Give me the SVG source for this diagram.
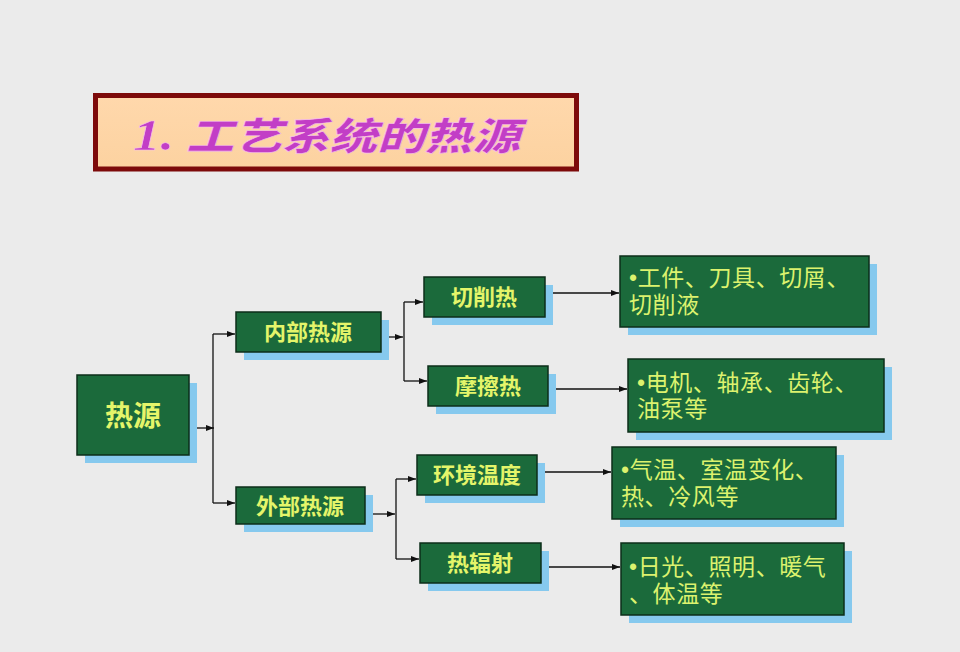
<svg xmlns="http://www.w3.org/2000/svg" width="960" height="652" viewBox="0 0 960 652">
<defs>
<style>
.sh{fill:#86c9ee}
.bx{fill:#1b6a3b;stroke:#0c2e1a;stroke-width:1.5}
.t{font-family:"Noto Sans CJK SC","Noto Sans",sans-serif;fill:#e4f56a;font-weight:bold;text-anchor:middle}
.d{font-family:"Liberation Sans","Noto Sans CJK SC",sans-serif;fill:#dcf26e;font-size:23px;letter-spacing:0.6px}
.c{stroke:#111;stroke-width:1.3;fill:none}
.a{stroke:#111;stroke-width:1.3;fill:none;marker-end:url(#ah)}
</style>
<marker id="ah" viewBox="0 0 8 6" refX="8" refY="3" markerWidth="8" markerHeight="6" markerUnits="userSpaceOnUse" orient="auto">
<path d="M0,0 L8,3 L0,6 Z" fill="#111"/>
</marker>
<linearGradient id="pg" x1="0" y1="0" x2="0" y2="1">
<stop offset="0" stop-color="#ffd8ac"/>
<stop offset="1" stop-color="#fcd2a0"/>
</linearGradient>
</defs>
<rect width="960" height="652" fill="#ebebeb"/>
<g id="title">
<rect x="95.5" y="95.5" width="481" height="73.5" fill="url(#pg)" stroke="#7d0a0a" stroke-width="5"/>
<text x="133" y="150" textLength="387" lengthAdjust="spacingAndGlyphs" font-family="'Liberation Serif','Noto Sans CJK SC',serif" font-size="38" font-weight="900" font-style="italic" fill="#c23ec6" stroke="#f6c0e8" stroke-width="0.6"><tspan font-size="44">1.</tspan> 工艺系统的热源</text>
</g>
<g id="connectors">
<line class="a" x1="193" y1="428" x2="214" y2="428"/>
<line class="c" x1="213" y1="334" x2="213" y2="503"/>
<line class="a" x1="213" y1="334" x2="235" y2="334"/>
<line class="a" x1="213" y1="503" x2="235" y2="503"/>
<line class="a" x1="389" y1="337" x2="403" y2="337"/>
<line class="c" x1="404" y1="302" x2="404" y2="381"/>
<line class="a" x1="404" y1="302" x2="423" y2="302"/>
<line class="a" x1="404" y1="381" x2="427" y2="381"/>
<line class="a" x1="372" y1="514" x2="395" y2="514"/>
<line class="c" x1="396" y1="479" x2="396" y2="559"/>
<line class="a" x1="396" y1="479" x2="416" y2="479"/>
<line class="a" x1="396" y1="559" x2="419" y2="559"/>
<line class="a" x1="548" y1="293" x2="619" y2="293"/>
<line class="a" x1="556" y1="389" x2="627" y2="389"/>
<line class="a" x1="541" y1="472" x2="611" y2="472"/>
<line class="a" x1="548" y1="567" x2="620" y2="567"/>
</g>
<g id="n-heat">
<rect class="sh" x="85" y="383" width="112" height="80"/>
<rect class="bx" x="77" y="375" width="112" height="80"/>
<text class="t" x="133" y="426" font-size="28">热源</text>
</g>
<g id="n-internal">
<rect class="sh" x="244" y="320" width="145" height="40"/>
<rect class="bx" x="236" y="312" width="145" height="40"/>
<text class="t" x="308" y="340" font-size="22">内部热源</text>
</g>
<g id="n-external">
<rect class="sh" x="244" y="495" width="129" height="37"/>
<rect class="bx" x="236" y="487" width="129" height="37"/>
<text class="t" x="300" y="514" font-size="22">外部热源</text>
</g>
<g id="n-cut">
<rect class="sh" x="432" y="285" width="121" height="40"/>
<rect class="bx" x="424" y="277" width="121" height="40"/>
<text class="t" x="484" y="305" font-size="22">切削热</text>
</g>
<g id="n-friction">
<rect class="sh" x="436" y="374" width="120" height="40"/>
<rect class="bx" x="428" y="366" width="120" height="40"/>
<text class="t" x="488" y="394" font-size="22">摩擦热</text>
</g>
<g id="n-env">
<rect class="sh" x="425" y="463" width="120" height="40"/>
<rect class="bx" x="417" y="455" width="120" height="40"/>
<text class="t" x="477" y="483" font-size="22">环境温度</text>
</g>
<g id="n-rad">
<rect class="sh" x="428" y="551" width="121" height="40"/>
<rect class="bx" x="420" y="543" width="121" height="40"/>
<text class="t" x="480" y="571" font-size="22">热辐射</text>
</g>
<g id="d-cut">
<rect class="sh" x="628" y="264" width="249" height="71"/>
<rect class="bx" x="620" y="256" width="249" height="71"/>
<text class="d"><tspan x="629" y="286">•工件、刀具、切屑、</tspan><tspan x="629" y="313">切削液</tspan></text>
</g>
<g id="d-friction">
<rect class="sh" x="636" y="367" width="256" height="73"/>
<rect class="bx" x="628" y="359" width="256" height="73"/>
<text class="d"><tspan x="637" y="391">•电机、轴承、齿轮、</tspan><tspan x="637" y="417">油泵等</tspan></text>
</g>
<g id="d-env">
<rect class="sh" x="620" y="455" width="224" height="72"/>
<rect class="bx" x="612" y="447" width="224" height="72"/>
<text class="d"><tspan x="621" y="478">•气温、室温变化、</tspan><tspan x="621" y="505">热、冷风等</tspan></text>
</g>
<g id="d-rad">
<rect class="sh" x="629" y="551" width="223" height="72"/>
<rect class="bx" x="621" y="543" width="223" height="72"/>
<text class="d"><tspan x="629" y="575">•日光、照明、暖气</tspan><tspan x="629" y="602">、体温等</tspan></text>
</g>
</svg>
